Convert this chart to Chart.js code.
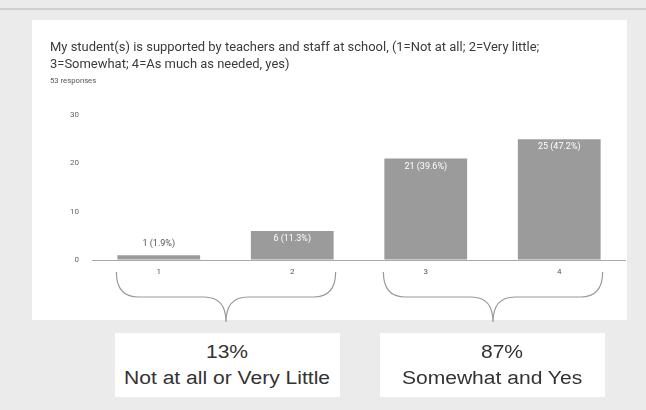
<!DOCTYPE html>
<html><head><meta charset="utf-8">
<script src="https://cdn.jsdelivr.net/npm/chart.js@4/dist/chart.umd.min.js"></script>
<style>
html,body{margin:0;padding:0;}
body{width:646px;height:410px;background:#ebebeb;position:relative;overflow:hidden;font-family:Roboto,"Liberation Sans",sans-serif;}
#topline{position:absolute;left:0;top:8px;width:646px;height:2px;background:#d0d0d0;}
#card{position:absolute;left:32px;top:20px;width:595px;height:300px;background:#fff;}
#c{position:absolute;left:0;top:0;}
.title{position:absolute;left:50px;top:39px;font-size:12px;line-height:17px;color:#3a3a3a;white-space:nowrap;transform:scaleX(1.08);transform-origin:0 0;}
.sub{position:absolute;left:50px;top:77px;font-size:7px;color:#555;transform:scaleX(1.1);transform-origin:0 0;}
.box{position:absolute;top:333px;height:64px;background:#fff;text-align:center;font-family:"Liberation Sans",Arial,sans-serif;font-size:18px;line-height:26px;color:#333;padding-top:6px;box-sizing:border-box;}
.box span{display:inline-block;transform:scaleX(1.17);}
</style></head>
<body>
<div id="topline"></div>
<div id="card"></div>
<canvas id="c" width="646" height="410"></canvas>
<div class="title">My student(s) is supported by teachers and staff at school, (1=Not at all; 2=Very little;<br>3=Somewhat; 4=As much as needed, yes)</div>
<div class="sub">53 responses</div>
<div class="box" id="b0" style="left:115px;width:225px;"></div>
<div class="box" id="b1" style="left:380px;width:225px;"></div>
<script>
const categories = ['1', '2', '3', '4'];
const counts = [1, 6, 21, 25];
const percentLabels = ['1.9%', '11.3%', '39.6%', '47.2%'];
const yTicks = [0, 10, 20, 30];
const groupPercents = ['13%', '87%'];
const groupLabels = ['Not at all or Very Little', 'Somewhat and Yes'];
const groupRanges = [[0, 1], [2, 3]];

groupPercents.forEach((p, i) => {
  const el = document.getElementById('b' + i);
  const shift = i === 1 ? 'padding-left:20px;' : '';
  el.innerHTML = '<div style="' + shift + '"><span>' + p + '</span></div><div><span>' + groupLabels[i] + '</span></div>';
});

const valueLabels = {
  id: 'valueLabels',
  afterDatasetsDraw(chart) {
    const ctx = chart.ctx;
    const meta = chart.getDatasetMeta(0);
    ctx.save();
    ctx.font = '9px Roboto, sans-serif';
    ctx.textAlign = 'center';
    ctx.textBaseline = 'middle';
    meta.data.forEach((bar, i) => {
      const txt = counts[i] + ' (' + percentLabels[i] + ')';
      const h = bar.base - bar.y;
      if (h > 15) {
        ctx.fillStyle = '#ffffff';
        ctx.fillText(txt, bar.x, bar.y + 8);
      } else {
        ctx.fillStyle = '#555555';
        ctx.fillText(txt, bar.x, bar.y - 11);
      }
    });
    ctx.restore();
  }
};

const braces = {
  id: 'braces',
  afterDraw(chart) {
    const ctx = chart.ctx;
    const meta = chart.getDatasetMeta(0);
    const yTop = 272, yMid = 297, yTip = 322;
    ctx.save();
    ctx.strokeStyle = '#9a9a9a';
    ctx.lineWidth = 1.2;
    groupRanges.forEach(([a, b]) => {
      const ba = meta.data[a], bb = meta.data[b];
      const x1 = ba.x - ba.width / 2 - 1;
      const x2 = bb.x + bb.width / 2 + 2;
      const xm = (x1 + x2) / 2;
      const r = 22;
      ctx.beginPath();
      ctx.moveTo(x1, yTop);
      ctx.quadraticCurveTo(x1, yMid, x1 + r, yMid);
      ctx.lineTo(xm - r, yMid);
      ctx.quadraticCurveTo(xm, yMid, xm, yTip);
      ctx.quadraticCurveTo(xm, yMid, xm + r, yMid);
      ctx.lineTo(x2 - r, yMid);
      ctx.quadraticCurveTo(x2, yMid, x2, yTop);
      ctx.stroke();
    });
    ctx.restore();
  }
};

new Chart(document.getElementById('c'), {
  type: 'bar',
  data: {
    labels: categories,
    datasets: [{
      data: counts,
      backgroundColor: '#9b9b9b',
      barPercentage: 0.62,
      categoryPercentage: 1.0
    }]
  },
  options: {
    responsive: false,
    animation: false,
    layout: { padding: { left: 0, right: 20, top: 115, bottom: 0 } },
    plugins: { legend: { display: false }, tooltip: { enabled: false } },
    scales: {
      x: {
        grid: { display: false, drawTicks: false },
        border: { display: false },
        ticks: { color: '#555', font: { size: 8, family: 'Roboto' }, padding: 7 },
        afterFit(s) { s.height = 150; }
      },
      y: {
        min: 0, max: 30,
        afterBuildTicks(s) { s.ticks = yTicks.map(v => ({ value: v })); },
        ticks: { color: '#666', font: { size: 8, family: 'Roboto' }, padding: 13 },
        grid: { drawTicks: false, color: c => (c.tick && c.tick.value === 0) ? '#a8a8a8' : 'rgba(0,0,0,0)' },
        border: { display: false },
        afterFit(s) { s.width = 92; }
      }
    }
  },
  plugins: [valueLabels, braces]
});
</script>
</body></html>
